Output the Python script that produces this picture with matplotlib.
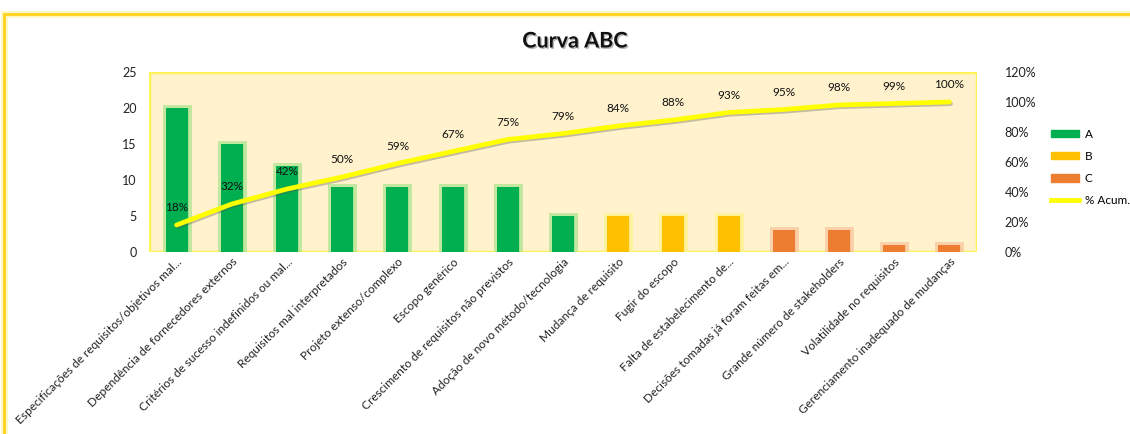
import matplotlib
matplotlib.use("Agg")
import matplotlib.pyplot as plt
import matplotlib.patheffects as pe
from matplotlib.patches import Rectangle, Patch
from matplotlib.lines import Line2D

# --- Data ---
categories = [
    "Especificações de requisitos/objetivos mal...",
    "Dependência de fornecedores externos",
    "Critérios de sucesso indefinidos ou mal...",
    "Requisitos mal interpretados",
    "Projeto extenso/complexo",
    "Escopo genérico",
    "Crescimento de requisitos não previstos",
    "Adoção de novo método/tecnologia",
    "Mudança de requisito",
    "Fugir do escopo",
    "Falta de estabelecimento de...",
    "Decisões tomadas já foram feitas em...",
    "Grande número de stakeholders",
    "Volatilidade no requisitos",
    "Gerenciamento inadequado de mudanças",
]
counts = [20, 15, 12, 9, 9, 9, 9, 5, 5, 5, 5, 3, 3, 1, 1]
classes = ["A", "A", "A", "A", "A", "A", "A", "A", "B", "B", "B", "C", "C", "C", "C"]
cum_pct = [18, 32, 42, 50, 59, 67, 75, 79, 84, 88, 93, 95, 98, 99, 100]

# --- Style ---
plt.rcParams["font.family"] = ["Lato", "DejaVu Sans"]
class_colors = {"A": "#00B050", "B": "#FFC000", "C": "#ED7D31"}
class_glow = {"A": "#A8E38C", "B": "#FFF28A", "C": "#F9C29A"}
W, H = 1130, 434
fig = plt.figure(figsize=(W / 100, H / 100), dpi=100)

# outer chart border (cut off at the bottom, like the screenshot)
fig.patches.append(Rectangle((4 / W, -0.05), 1130 / W, 1 - 14 / H + 0.05,
                             transform=fig.transFigure, fill=False,
                             edgecolor="#FFD21F", linewidth=2,
                             path_effects=[pe.Stroke(linewidth=5, foreground="#FFF3A0", alpha=0.6),
                                           pe.Normal()]))

ax = fig.add_axes([149 / W, 1 - 252 / H, (977 - 149) / W, (252 - 72) / H])
ax2 = ax.twinx()

# plot area background with yellow glowing border
ax.add_patch(Rectangle((0, 0), 1, 1, transform=ax.transAxes, facecolor="#FFF2CC",
                       edgecolor="#FFF35A", linewidth=2.5, zorder=0,
                       path_effects=[pe.Stroke(linewidth=7, foreground="#FFF8A8", alpha=0.7),
                                     pe.Normal()]))

x = list(range(len(categories)))
for xi, v, c in zip(x, counts, classes):
    ax.bar(xi, v, width=0.4, color=class_colors[c], zorder=2,
           path_effects=[pe.Stroke(linewidth=5, foreground=class_glow[c], alpha=0.7),
                         pe.Normal()])

ax.set_xlim(-0.5, len(categories) - 0.5)
ax.set_ylim(0, 25)
ax.set_yticks([0, 5, 10, 15, 20, 25])
ax.tick_params(axis="y", length=0, pad=9, labelsize=9, labelcolor="#222222")
ax.tick_params(axis="x", length=0, pad=3)
ax.set_xticks(x)
ax.set_xticklabels(categories, rotation=45, ha="right", rotation_mode="anchor",
                   fontsize=8.6, color="#222222")
for s in ax.spines.values():
    s.set_visible(False)

# cumulative % line on secondary axis
cum_frac = [p / 100 for p in cum_pct]
ax2.plot(x, cum_frac, color="#FFFF00", linewidth=3.4, solid_capstyle="round", zorder=5,
         path_effects=[pe.SimpleLineShadow(offset=(0.8, -1.2), shadow_color="#555555", alpha=0.35),
                       pe.Normal()])
for xi, f, p in zip(x, cum_frac, cum_pct):
    ax2.annotate(f"{p}%", (xi, f), xytext=(0, 12.5), textcoords="offset points",
                 ha="center", va="center", fontsize=8.5, color="#111111")
ax2.set_ylim(0, 1.2)
ax2.set_yticks([0, 0.2, 0.4, 0.6, 0.8, 1.0, 1.2])
ax2.set_yticklabels([f"{int(round(t * 100))}%" for t in ax2.get_yticks()])
ax2.tick_params(axis="y", length=0, pad=20, labelsize=9, labelcolor="#222222")
for s in ax2.spines.values():
    s.set_visible(False)

# title
fig.text(575 / W, 1 - 41 / H, "Curva ABC", ha="center", va="center", fontsize=15.5,
         fontweight="bold", color="#111111",
         path_effects=[pe.withSimplePatchShadow(offset=(1, -1), shadow_rgbFace="#888888", alpha=0.6)])

# legend
handles = [Patch(color=class_colors["A"]), Patch(color=class_colors["B"]),
           Patch(color=class_colors["C"]),
           Line2D([0], [0], color="#FFFF00", linewidth=3.4)]
fig.legend(handles, ["A", "B", "C", "% Acum."], loc="upper left",
           bbox_to_anchor=(1040 / W, 1 - 118 / H), frameon=False, fontsize=8.5,
           handlelength=2.4, handleheight=0.6, labelspacing=0.95, handletextpad=0.5)

fig.savefig("out.png", dpi=100)
